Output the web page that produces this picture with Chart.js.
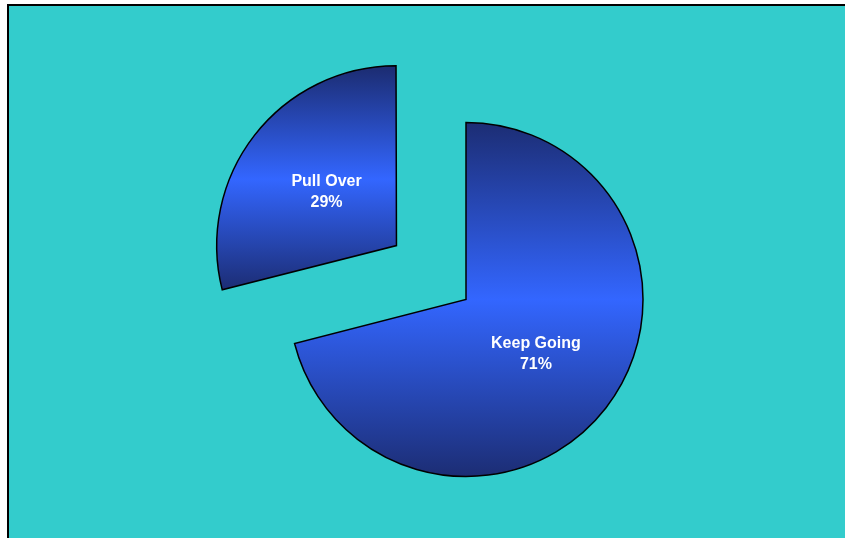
<!DOCTYPE html>
<html>
<head>
<meta charset="utf-8">
<title>Pull Over vs Keep Going</title>
<script src="https://cdn.jsdelivr.net/npm/chart.js@4/dist/chart.umd.min.js"></script>
<style>
  html, body { margin: 0; padding: 0; background: #ffffff; }
  canvas { display: block; }
</style>
</head>
<body>
<canvas id="pieChart" width="845" height="538"></canvas>
<script>
const labels = ["Keep Going", "Pull Over"];
const shares = [71, 29];
const sliceOffsets = [0, 352]; // Pull Over is pulled out of the pie

const TEAL = "#33cccc";
const NAVY = "#1c2d74";
const BRIGHT = "#3366ff";

// teal panel with a black frame on the top and left edges
const panelBackground = {
  id: "panelBackground",
  beforeDraw(chart) {
    const ctx = chart.ctx;
    ctx.save();
    ctx.fillStyle = "#ffffff";
    ctx.fillRect(0, 0, chart.width, chart.height);
    ctx.fillStyle = TEAL;
    ctx.fillRect(9, 6, chart.width - 9, chart.height - 6);
    ctx.fillStyle = "#000000";
    ctx.fillRect(7, 4, chart.width - 7, 2);
    ctx.fillRect(7, 4, 2, chart.height - 4);
    ctx.restore();
  }
};

// vertical navy -> blue -> navy shading over each slice's own height.
// The arc translates the context by its offset before filling, so the
// gradient is built around the untranslated centre.
const sliceShading = {
  id: "sliceShading",
  beforeDatasetsDraw(chart) {
    const ctx = chart.ctx;
    chart.getDatasetMeta(0).data.forEach((arc) => {
      const cy = arc.y;
      const r = arc.outerRadius;
      let top = cy, bottom = cy;
      const steps = 90;
      for (let s = 0; s <= steps; s++) {
        const a = arc.startAngle + (arc.endAngle - arc.startAngle) * s / steps;
        const y = cy + Math.sin(a) * r;
        top = Math.min(top, y);
        bottom = Math.max(bottom, y);
      }
      const g = ctx.createLinearGradient(0, top, 0, bottom);
      g.addColorStop(0, NAVY);
      g.addColorStop(0.5, BRIGHT);
      g.addColorStop(1, NAVY);
      arc.options.backgroundColor = g;
    });
  }
};

// category name and percentage in the middle of each slice
const sliceLabels = {
  id: "sliceLabels",
  afterDatasetsDraw(chart) {
    const ctx = chart.ctx;
    ctx.save();
    ctx.fillStyle = "#ffffff";
    ctx.font = "bold 16px 'Liberation Sans', Arial, sans-serif";
    ctx.textAlign = "center";
    ctx.textBaseline = "middle";
    chart.getDatasetMeta(0).data.forEach((arc, i) => {
      const push = (arc.options.offset || 0) / 4;
      const mid = (arc.startAngle + arc.endAngle) / 2;
      const d = push + arc.outerRadius / 2;
      const x = arc.x + Math.cos(mid) * d;
      const y = arc.y + Math.sin(mid) * d;
      ctx.fillText(labels[i], x, y - 10);
      ctx.fillText(shares[i] + "%", x, y + 11);
    });
    ctx.restore();
  }
};

new Chart(document.getElementById("pieChart").getContext("2d"), {
  type: "pie",
  data: {
    labels: labels,
    datasets: [{
      data: shares,
      backgroundColor: () => BRIGHT,
      borderColor: "#000000",
      borderWidth: 1.5,
      borderJoinStyle: "miter",
      offset: sliceOffsets,
      hoverOffset: 0,
      clip: false
    }]
  },
  options: {
    responsive: false,
    animation: false,
    radius: 177,
    layout: {
      padding: { left: 87, right: 0, top: 61, bottom: 0 }
    },
    plugins: {
      legend: { display: false },
      tooltip: { enabled: false }
    },
    events: []
  },
  plugins: [panelBackground, sliceShading, sliceLabels]
});
</script>
</body>
</html>
